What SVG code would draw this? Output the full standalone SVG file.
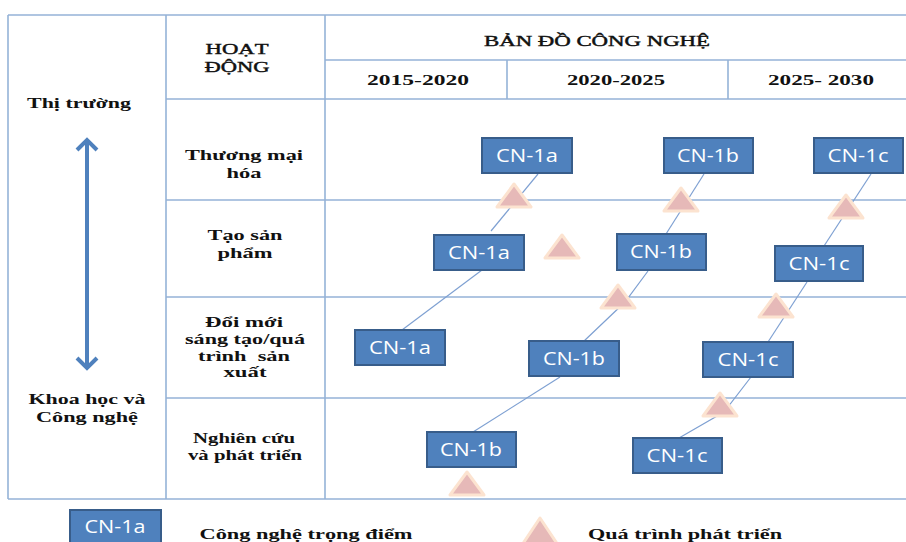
<svg xmlns="http://www.w3.org/2000/svg" width="906" height="542" viewBox="0 0 906 542">
<style>
.grid{stroke:#95B3D7;stroke-width:1.6;fill:none}
.lbl{font-family:"Liberation Serif","Times New Roman",serif;font-weight:bold;font-size:15.5px;fill:#111;text-anchor:middle}
.hdr{font-family:"Liberation Serif","Times New Roman",serif;font-weight:normal;font-size:15.5px;fill:#111;stroke:#111;stroke-width:0.45;text-anchor:middle}
.box rect{fill:#4F81BD;stroke:#385D8A;stroke-width:2}
.box text{font-family:"Open Sans","Liberation Sans",sans-serif;font-size:18px;fill:#fff;text-anchor:middle}
.tri{fill:#E6B9B8;stroke:#FCE3D0;stroke-width:3;stroke-linejoin:round}
.conn{stroke:#7EA0D2;stroke-width:1.2;fill:none}
.arr{stroke:#4F81BD;stroke-width:4;fill:none}
</style>
<rect width="906" height="542" fill="#fff"/>
<g id="table">
<path class="grid" d="M8,15H906M8,15V499M8,499H906M166,15V499M325,15V499M166,99H906M325,60H906M507,60V99M728,60V99M166,200H906M166,297H906M166,398H906"/>
</g>
<g id="headers">
<text class="hdr" x="237" y="54" textLength="63" lengthAdjust="spacingAndGlyphs">HOẠT</text>
<text class="hdr" x="237" y="72" textLength="65" lengthAdjust="spacingAndGlyphs">ĐỘNG</text>
<text class="hdr" x="597" y="46" textLength="226" lengthAdjust="spacingAndGlyphs">BẢN ĐỒ CÔNG NGHỆ</text>
<text class="lbl" x="418" y="85" textLength="102" lengthAdjust="spacingAndGlyphs">2015-2020</text>
<text class="lbl" x="616" y="85" textLength="98" lengthAdjust="spacingAndGlyphs">2020-2025</text>
<text class="lbl" x="821" y="85" textLength="106" lengthAdjust="spacingAndGlyphs">2025- 2030</text>
</g>
<g id="axis">
<text class="lbl" x="79" y="108" textLength="104" lengthAdjust="spacingAndGlyphs">Thị trường</text>
<text class="lbl" x="87" y="404" textLength="117" lengthAdjust="spacingAndGlyphs">Khoa học và</text>
<text class="lbl" x="87" y="422" textLength="102" lengthAdjust="spacingAndGlyphs">Công nghệ</text>
<path class="arr" d="M87,142V366M77,150L87,140L97,150M77,358L87,368L97,358"/>
</g>
<g id="rows">
<text class="lbl" x="244" y="160" textLength="118" lengthAdjust="spacingAndGlyphs">Thương mại</text>
<text class="lbl" x="244" y="178" textLength="35" lengthAdjust="spacingAndGlyphs">hóa</text>
<text class="lbl" x="245" y="240" textLength="75" lengthAdjust="spacingAndGlyphs">Tạo sản</text>
<text class="lbl" x="245" y="258" textLength="55" lengthAdjust="spacingAndGlyphs">phẩm</text>
<text class="lbl" x="244" y="327" textLength="78" lengthAdjust="spacingAndGlyphs">Đổi mới</text>
<text class="lbl" x="245" y="344" textLength="120" lengthAdjust="spacingAndGlyphs">sáng tạo/quá</text>
<text class="lbl" x="244" y="361" textLength="92" lengthAdjust="spacingAndGlyphs" xml:space="preserve">trình  sản</text>
<text class="lbl" x="245" y="377" textLength="43" lengthAdjust="spacingAndGlyphs">xuất</text>
<text class="lbl" x="244" y="443" textLength="102" lengthAdjust="spacingAndGlyphs">Nghiên cứu</text>
<text class="lbl" x="245" y="460" textLength="114" lengthAdjust="spacingAndGlyphs">và phát triển</text>
</g>
<g id="connectors">
<path class="conn" d="M538,174L491,231"/>
<path class="conn" d="M482,270L402,330"/>
<path class="conn" d="M704,174L666,234"/>
<path class="conn" d="M871,174L824,246"/>
<path class="conn" d="M648,271L625,302L583,342"/>
<path class="conn" d="M807,282L768,342"/>
<path class="conn" d="M560,377L473,432"/>
<path class="conn" d="M751,377L724,412L679,438"/>
</g>
<g id="triangles">
<polygon class="tri" points="514,184 531,207 497,207"/>
<polygon class="tri" points="562,235 579,258 545,258"/>
<polygon class="tri" points="681,188 698,211 664,211"/>
<polygon class="tri" points="846,195 863,218 829,218"/>
<polygon class="tri" points="618,285 635,308 601,308"/>
<polygon class="tri" points="776,294 793,317 759,317"/>
<polygon class="tri" points="720,393 737,416 703,416"/>
<polygon class="tri" points="467,472 484,495 450,495"/>
</g>
<g id="n1" class="box"><rect x="482" y="138" width="90" height="35"/><text x="527" y="162" textLength="62" lengthAdjust="spacingAndGlyphs">CN-1a</text></g>
<g id="n2" class="box"><rect x="664" y="138" width="89" height="35"/><text x="708" y="162" textLength="62" lengthAdjust="spacingAndGlyphs">CN-1b</text></g>
<g id="n3" class="box"><rect x="814" y="138" width="89" height="35"/><text x="858" y="162" textLength="61" lengthAdjust="spacingAndGlyphs">CN-1c</text></g>
<g id="n4" class="box"><rect x="434" y="235" width="90" height="35"/><text x="479" y="259" textLength="62" lengthAdjust="spacingAndGlyphs">CN-1a</text></g>
<g id="n5" class="box"><rect x="617" y="234" width="89" height="36"/><text x="661" y="258" textLength="62" lengthAdjust="spacingAndGlyphs">CN-1b</text></g>
<g id="n6" class="box"><rect x="775" y="246" width="88" height="35"/><text x="819" y="270" textLength="61" lengthAdjust="spacingAndGlyphs">CN-1c</text></g>
<g id="n7" class="box"><rect x="355" y="330" width="90" height="35"/><text x="400" y="354" textLength="62" lengthAdjust="spacingAndGlyphs">CN-1a</text></g>
<g id="n8" class="box"><rect x="529" y="341" width="90" height="35"/><text x="574" y="365" textLength="62" lengthAdjust="spacingAndGlyphs">CN-1b</text></g>
<g id="n9" class="box"><rect x="703" y="342" width="90" height="35"/><text x="748" y="366" textLength="61" lengthAdjust="spacingAndGlyphs">CN-1c</text></g>
<g id="n10" class="box"><rect x="427" y="432" width="89" height="35"/><text x="471" y="456" textLength="62" lengthAdjust="spacingAndGlyphs">CN-1b</text></g>
<g id="n11" class="box"><rect x="633" y="438" width="89" height="35"/><text x="677" y="462" textLength="61" lengthAdjust="spacingAndGlyphs">CN-1c</text></g>
<g id="legend">
<g class="box"><rect x="70" y="510" width="91" height="40"/><text x="115" y="533" textLength="61" lengthAdjust="spacingAndGlyphs">CN-1a</text></g>
<text class="lbl" x="306" y="539" textLength="213" lengthAdjust="spacingAndGlyphs">Công nghệ trọng điểm</text>
<polygon class="tri" points="540,518 558,545 522,545"/>
<text class="lbl" x="685" y="539" textLength="194" lengthAdjust="spacingAndGlyphs">Quá trình phát triển</text>
</g>
</svg>
